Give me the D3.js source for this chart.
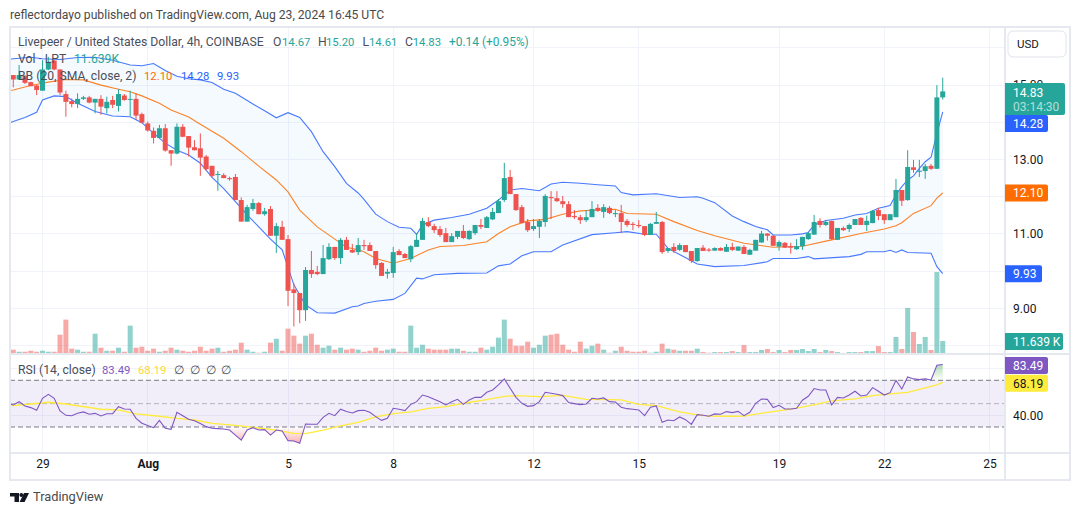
<!DOCTYPE html>
<html>
<head>
<meta charset="utf-8">
<style>
  html, body { margin: 0; padding: 0; background: #fff; }
  svg { display: block; }
  text { font-family: Roboto, sans-serif; }
</style>
<script src="https://cdn.jsdelivr.net/npm/d3@7"></script>
</head>
<body>
<svg id="chart" width="1080" height="515"></svg>
<script>
// LPT/USD, 4h candles from Coinbase, with Bollinger Bands, volume and RSI.
const firstBar = Date.UTC(2024, 6, 28, 4);
const barMs = 4 * 3600 * 1000;

const opens = [
15.27,15.15,15.24,15.08,14.99,14.85,15.42,15.66,15.42,14.76,
14.57,14.49,14.63,14.67,14.53,14.63,14.38,14.60,14.44,14.72,
14.61,14.63,14.22,13.97,13.77,13.58,13.84,13.25,13.16,13.88,
13.63,13.33,13.30,13.08,12.83,12.59,12.58,12.50,12.53,11.91,
11.33,11.67,11.83,11.53,11.67,10.95,11.19,10.86,9.51,9.41,
8.95,10.03,9.98,9.92,10.32,10.65,10.35,10.84,10.57,10.51,
10.70,10.70,10.54,10.22,9.93,9.95,10.54,10.46,10.32,10.65,
10.84,11.32,11.21,11.13,11.02,10.78,10.92,11.08,10.86,11.02,
11.24,11.16,11.39,11.56,11.91,12.53,12.07,11.72,11.32,11.13,
11.19,11.32,11.99,11.96,11.88,11.80,11.48,11.45,11.37,11.45,
11.70,11.59,11.70,11.53,11.56,11.35,11.27,11.24,11.21,10.97,
11.27,11.32,10.54,10.65,10.57,10.70,10.54,10.27,10.63,10.58,
10.55,10.62,10.52,10.65,10.55,10.65,10.44,10.55,10.77,11.01,
10.95,10.66,10.76,10.67,10.59,10.67,10.86,10.98,11.35,11.24,
11.35,10.84,11.16,11.13,11.24,11.43,11.24,11.29,11.64,11.53,
11.37,11.45,12.18,11.91,12.79,12.67,12.69,12.83,12.75,14.67];

const highs = [
15.27,15.54,15.27,15.09,15.00,15.67,15.76,15.67,15.42,14.85,
14.64,14.78,14.71,14.71,14.63,14.73,14.69,14.71,14.89,14.76,
14.85,14.78,14.26,14.02,13.86,13.93,13.95,13.25,13.97,13.95,
13.63,13.52,13.70,13.12,12.83,12.69,12.63,12.54,12.61,11.98,
11.78,11.94,11.86,11.70,11.75,11.29,11.35,10.97,9.67,9.41,
10.11,10.54,10.14,10.70,10.75,10.65,10.89,10.92,10.73,10.89,
10.84,10.77,10.54,10.24,10.06,10.65,10.59,10.49,10.70,11.02,
11.43,11.45,11.27,11.21,11.16,11.02,11.08,11.24,11.10,11.24,
11.40,11.48,11.70,11.94,12.91,12.72,12.07,11.78,11.40,11.40,
11.40,12.07,12.15,12.15,12.02,11.88,11.64,11.51,11.64,11.88,
11.80,11.80,11.75,11.64,11.78,11.40,11.32,11.37,11.21,11.29,
11.59,11.35,10.62,10.75,10.75,10.70,10.54,10.62,10.70,10.62,
10.64,10.64,10.73,10.76,10.66,10.70,10.60,10.84,11.08,11.02,
10.97,10.82,10.78,10.76,10.86,10.92,11.05,11.51,11.42,11.37,
11.35,11.16,11.20,11.28,11.40,11.45,11.49,11.64,11.70,11.53,
11.53,12.48,12.18,13.25,12.99,12.99,12.88,12.88,15.00,15.20];

const lows = [
14.94,15.14,15.03,14.97,14.73,14.85,15.40,15.40,14.73,14.15,
14.40,14.38,14.60,14.51,14.24,14.20,14.24,14.38,14.29,14.58,
14.17,14.06,13.97,13.75,13.43,13.57,13.21,12.83,13.14,13.60,
13.08,13.24,12.56,12.70,12.52,12.16,12.50,12.43,11.91,11.33,
11.33,11.62,11.53,11.49,10.95,10.49,10.84,9.06,8.51,8.60,
8.66,9.82,9.89,9.92,10.30,10.30,10.19,10.57,10.49,10.43,
10.57,10.54,10.06,9.87,9.80,9.82,10.43,10.35,10.24,10.65,
10.84,11.18,11.02,10.92,10.78,10.78,10.86,10.86,10.84,10.97,
11.13,11.16,11.37,11.56,11.86,12.07,11.62,11.29,11.05,11.08,
10.89,11.19,11.40,11.86,11.70,11.45,11.40,11.27,11.32,11.45,
11.59,11.43,11.53,11.45,11.02,11.19,11.10,11.16,10.94,10.97,
11.27,10.46,10.49,10.49,10.54,10.51,10.22,10.25,10.54,10.52,
10.55,10.55,10.52,10.54,10.54,10.46,10.44,10.55,10.76,10.82,
10.68,10.55,10.63,10.47,10.57,10.57,10.84,10.98,11.17,11.21,
10.84,10.84,11.08,11.05,11.24,11.24,11.08,11.29,11.37,11.27,
11.37,11.45,11.75,11.89,12.64,12.53,12.48,12.72,12.75,14.61];

const closes = [
15.15,15.27,15.06,14.97,14.87,15.42,15.63,15.42,14.80,14.55,
14.49,14.63,14.67,14.53,14.63,14.42,14.55,14.47,14.76,14.60,
14.63,14.18,13.99,13.78,13.58,13.84,13.24,13.16,13.88,13.61,
13.32,13.25,13.05,12.74,12.56,12.61,12.50,12.47,11.91,11.33,
11.72,11.83,11.53,11.61,10.95,11.21,10.84,9.47,9.41,8.95,
10.03,9.92,9.92,10.35,10.65,10.35,10.84,10.57,10.50,10.70,
10.67,10.54,10.16,9.87,9.98,10.51,10.43,10.35,10.67,10.84,
11.35,11.21,11.10,10.97,10.78,10.94,11.08,10.89,11.08,11.24,
11.19,11.45,11.59,11.88,12.50,12.07,11.64,11.29,11.10,11.21,
11.35,12.02,11.96,11.88,11.80,11.45,11.45,11.37,11.45,11.67,
11.62,11.72,11.56,11.56,11.32,11.24,11.24,11.21,10.97,11.27,
11.32,10.51,10.62,10.54,10.70,10.51,10.27,10.62,10.54,10.55,
10.62,10.55,10.65,10.57,10.66,10.46,10.57,10.84,11.01,10.95,
10.68,10.78,10.63,10.63,10.67,10.92,11.02,11.32,11.24,11.32,
10.86,11.16,11.10,11.24,11.40,11.24,11.35,11.62,11.48,11.37,
11.53,12.18,11.89,12.80,12.72,12.70,12.82,12.75,14.67,14.83];

// Volume in thousands of LPT per bar.
const volumes = [
3.7,1.8,1.8,2.7,1.8,2.7,1.8,1.8,17.4,31.2,
4.6,3.7,1.8,1.8,18.3,5.5,2.7,2.7,5.5,1.8,
25.7,5.5,6.4,2.7,4.6,1.8,2.7,5.5,3.7,2.7,
1.8,2.7,6.4,2.7,4.6,5.5,1.8,2.7,3.7,10.1,
3.7,1.8,0.9,1.8,10.1,13.7,2.7,22.9,16.5,9.2,
16.5,18.3,8.2,5.5,7.3,3.7,5.5,3.7,4.6,3.7,
1.8,2.7,5.5,2.7,3.7,4.6,1.8,1.8,25.7,5.5,
8.2,4.6,3.7,3.7,3.7,4.6,4.6,2.7,1.8,1.8,
5.5,3.7,6.4,14.7,31.2,13.7,7.3,7.3,11.0,5.5,
8.2,16.5,17.4,18.3,8.2,3.7,1.8,11.0,4.6,7.3,
9.2,3.7,0.9,2.7,6.4,2.7,1.8,1.8,2.7,0.9,
1.8,9.2,4.6,3.7,2.7,2.7,2.7,4.6,1.5,0.9,
1.5,1.5,1.5,2.4,1.5,7.9,1.5,1.5,3.4,4.3,
1.5,3.4,1.5,3.4,3.4,4.3,2.4,4.3,1.5,3.4,
2.4,1.5,0.6,1.5,1.5,1.5,2.4,2.4,7.0,1.5,
1.5,15.3,4.3,41.9,19.9,8.9,15.3,3.4,74.8,11.639];

// Bollinger Bands, as [bar number, price] knots along each curve.
const bbUpper = [[-1,15.68],[0,15.71],[3,15.75],[5,15.71],[8,15.69],[11,15.74],[14,15.75],[17,15.67],[20,15.54],[22,15.52],[24,15.58],[26,15.39],[28,15.24],[30,15.17],[32,15.14],[34,15.07],[36,14.89],[38,14.78],[41,14.49],[43,14.31],[45,14.12],[47,14.26],[49,14.13],[51,13.75],[53,13.21],[55,12.81],[57,12.36],[59,12.10],[60,11.93],[62,11.53],[64,11.33],[66,11.18],[68,11.15],[69,10.99],[70,11.24],[72,11.37],[75,11.44],[78,11.53],[81,11.69],[83,11.91],[85,12.18],[87,12.22],[90,12.16],[92,12.34],[94,12.39],[97,12.36],[100,12.32],[103,12.29],[104,12.11],[106,12.05],[110,12.08],[114,11.98],[117,12.00],[118,11.96],[120,11.84],[123,11.48],[125,11.33],[127,11.20],[129,11.11],[130,10.97],[133,10.97],[135,11.00],[136,11.04],[137,11.24],[139,11.36],[142,11.42],[144,11.51],[146,11.55],[148,11.69],[150,11.76],[151,12.05],[152,12.27],[153,12.45],[154,12.56],[155,12.76],[156,12.94],[157,13.06],[158,13.70],[159,14.28]];
const bbBasis = [[-1,14.84],[0,14.87],[3,14.99],[6,15.08],[9,15.15],[12,15.14],[15,15.00],[18,14.89],[20,14.82],[22,14.71],[25,14.51],[27,14.33],[30,14.14],[32,13.95],[36,13.57],[39,13.21],[42,12.82],[45,12.45],[47,12.13],[49,11.64],[52,11.19],[55,10.86],[57,10.64],[59,10.57],[60,10.52],[62,10.34],[65,10.21],[68,10.34],[71,10.57],[73,10.66],[77,10.69],[81,10.79],[83,11.01],[85,11.19],[88,11.35],[91,11.39],[94,11.53],[97,11.62],[101,11.65],[103,11.66],[105,11.55],[110,11.53],[113,11.33],[117,11.09],[120,10.95],[125,10.75],[130,10.64],[135,10.67],[140,10.84],[145,11.01],[149,11.13],[151,11.22],[152,11.30],[154,11.55],[157,11.76],[158,11.96],[159,12.10]];
const bbLower = [[-1,13.97],[0,14.02],[2,14.13],[4,14.27],[5,14.60],[7,14.71],[9,14.69],[11,14.51],[14,14.29],[17,14.17],[20,14.15],[22,13.99],[24,13.70],[26,13.44],[28,13.25],[30,13.12],[32,12.90],[34,12.52],[36,12.22],[38,11.87],[40,11.51],[42,11.19],[44,10.86],[46,10.57],[48,9.63],[50,9.09],[52,8.88],[55,8.87],[58,9.04],[59,9.06],[60,9.13],[62,9.19],[65,9.24],[67,9.40],[69,9.81],[70,9.79],[72,9.90],[76,9.94],[81,9.95],[83,10.14],[85,10.19],[87,10.41],[89,10.52],[92,10.52],[94,10.70],[99,10.98],[103,11.03],[105,11.06],[108,10.99],[110,10.99],[112,10.61],[116,10.28],[117,10.19],[120,10.12],[125,10.15],[129,10.25],[130,10.34],[134,10.34],[136,10.39],[137,10.33],[143,10.39],[145,10.45],[146,10.52],[149,10.52],[150,10.56],[151,10.50],[152,10.57],[153,10.50],[157,10.48],[158,10.12],[159,9.93]];

// RSI(14), one reading per bar, and its moving average as knots.
const rsiLeadIn = [-1, 50.3];
const rsiValues = [
48.9,51.7,48.0,46.6,44.3,54.6,58.0,54.6,43.7,40.0,
39.7,41.7,42.9,40.9,41.7,39.4,41.4,41.4,47.4,45.4,
45.2,37.4,33.2,31.2,29.4,35.7,28.9,28.0,42.6,39.7,
36.6,35.4,32.9,30.3,28.9,28.6,28.3,27.4,23.1,18.8,
27.4,29.4,27.4,27.7,23.1,27.4,26.6,18.3,18.0,16.0,
32.6,32.3,32.3,38.3,41.7,39.7,45.2,43.2,42.0,44.0,
44.3,42.6,38.9,35.7,37.4,46.0,45.2,44.0,49.4,51.7,
57.4,56.0,53.7,51.7,48.9,51.7,53.7,49.4,53.2,55.4,
55.4,59.7,61.7,66.0,71.2,63.2,55.4,50.3,47.7,48.3,
51.7,59.7,58.9,58.0,56.9,50.9,50.0,49.2,49.7,54.6,
54.0,54.9,51.7,51.4,46.9,45.7,45.2,44.6,39.7,46.9,
48.0,34.0,36.0,35.4,38.6,36.3,32.3,40.6,40.0,39.2,
41.2,40.9,43.2,42.3,43.4,39.7,42.6,50.3,54.0,53.7,
46.6,48.6,45.4,45.4,46.0,52.9,56.3,62.9,61.7,61.7,
48.9,55.4,54.9,57.4,60.6,56.6,57.4,63.7,60.6,57.4,
59.4,70.0,62.6,72.9,71.2,70.6,71.2,70.3,82.9,83.49];
const rsiAverage = [[-1,48.0],[0,48.3],[3,49.7],[6,51.2],[9,49.7],[15,45.2],[18,44.6],[21,41.2],[25,39.2],[28,37.4],[31,36.0],[34,33.1],[38,31.4],[41,29.7],[45,27.4],[48,24.6],[50,24.3],[53,27.4],[56,30.9],[59,34.0],[62,38.6],[65,41.4],[68,42.9],[71,46.0],[74,47.4],[78,51.2],[80,52.6],[84,56.3],[86,56.9],[90,56.0],[94,57.1],[98,53.7],[102,53.4],[104,53.2],[107,49.4],[110,48.3],[114,42.9],[117,40.3],[119,39.4],[123,39.2],[125,39.4],[129,42.6],[133,45.4],[137,48.9],[140,52.3],[144,54.0],[147,56.9],[150,58.3],[153,59.7],[155,62.3],[158,66.0],[159,68.19]];

const priceTicks = [9, 11, 13, 15];
const priceGrid = [8, 9, 10, 11, 12, 13, 14, 15, 16];
const rsiTicks = [40];
const rsiGrid = [40, 80];
const timeTicks = [
  {date: Date.UTC(2024, 6, 29), label: "29"},
  {date: Date.UTC(2024, 7, 1), label: "Aug", bold: true},
  {date: Date.UTC(2024, 7, 5), label: "5"},
  {date: Date.UTC(2024, 7, 8), label: "8"},
  {date: Date.UTC(2024, 7, 12), label: "12"},
  {date: Date.UTC(2024, 7, 15), label: "15"},
  {date: Date.UTC(2024, 7, 19), label: "19"},
  {date: Date.UTC(2024, 7, 22), label: "22"},
  {date: Date.UTC(2024, 7, 25), label: "25"}
];

const UP = "#26a69a", DOWN = "#ef5350", BLUE = "#2962ff", ORANGE = "#ff6d00",
      PURPLE = "#7e57c2", YELLOW = "#ffeb3b", GRID = "#f0f3fa", EDGE = "#e6e8ef", INK = "#131722";

const plot = {left: 10, right: 1004, top: 27, bottom: 354, rsiBottom: 452.5, frameBottom: 479.5};

const x = d3.scaleUtc()
  .domain([Date.UTC(2024, 6, 29), Date.UTC(2024, 7, 25)])
  .range([42.5, 989.5]);
const barX = i => x(firstBar + i * barMs);
const y = d3.scaleLinear().domain([9, 15]).range([308.3, 85.1]);
const yVol = d3.scaleLinear().domain([0, 74.8]).range([353.7, 272]);
const yRsi = d3.scaleLinear().domain([30, 70]).range([427, 380.3]);

const svg = d3.select("#chart");
const defs = svg.append("defs");
defs.append("clipPath").attr("id", "mainClip").append("rect")
  .attr("x", plot.left).attr("y", plot.top)
  .attr("width", plot.right - plot.left).attr("height", plot.bottom - plot.top);
defs.append("clipPath").attr("id", "rsiClip").append("rect")
  .attr("x", plot.left).attr("y", plot.bottom)
  .attr("width", plot.right - plot.left).attr("height", plot.rsiBottom - plot.bottom);
defs.append("clipPath").attr("id", "aboveBand").append("rect")
  .attr("x", plot.left).attr("y", plot.bottom)
  .attr("width", plot.right - plot.left).attr("height", yRsi(70) - plot.bottom);
defs.append("clipPath").attr("id", "belowBand").append("rect")
  .attr("x", plot.left).attr("y", yRsi(30))
  .attr("width", plot.right - plot.left).attr("height", plot.rsiBottom - yRsi(30));

function verticalGradient(id, y1, y2, color, a1, a2) {
  const g = defs.append("linearGradient").attr("id", id)
    .attr("gradientUnits", "userSpaceOnUse")
    .attr("x1", 0).attr("x2", 0).attr("y1", y1).attr("y2", y2);
  g.append("stop").attr("offset", 0).attr("stop-color", color).attr("stop-opacity", a1);
  g.append("stop").attr("offset", 1).attr("stop-color", color).attr("stop-opacity", a2);
}
verticalGradient("overbought", yRsi(83.49), yRsi(70), "#4caf50", 0.45, 0);
verticalGradient("oversold", yRsi(30), yRsi(16), "#ef5350", 0, 0.45);

// Frame and grid
const grid = svg.append("g").attr("stroke", GRID).attr("stroke-width", 1).attr("shape-rendering", "crispEdges");
grid.selectAll(".v").data(timeTicks).join("line")
  .attr("x1", d => x(d.date)).attr("x2", d => x(d.date))
  .attr("y1", plot.top).attr("y2", plot.rsiBottom);
grid.selectAll(".h").data(priceGrid).join("line")
  .attr("x1", plot.left).attr("x2", plot.right)
  .attr("y1", d => y(d)).attr("y2", d => y(d));
grid.selectAll(".r").data(rsiGrid).join("line")
  .attr("x1", plot.left).attr("x2", plot.right)
  .attr("y1", d => yRsi(d)).attr("y2", d => yRsi(d));

// Volume histogram
const main = svg.append("g").attr("clip-path", "url(#mainClip)");
const bars = d3.range(opens.length);
const isUp = i => closes[i] >= opens[i];
main.append("g").selectAll("rect").data(bars).join("rect")
  .attr("x", i => barX(i) - 2.5).attr("width", 5)
  .attr("y", i => yVol(volumes[i]))
  .attr("height", i => yVol(0) - yVol(volumes[i]))
  .attr("fill", i => isUp(i) ? UP : DOWN).attr("fill-opacity", 0.5);

// Bollinger Bands
const knot = d3.line().x(d => barX(d[0])).y(d => y(d[1]));
main.append("path")
  .attr("d", knot(bbUpper.concat(bbLower.slice().reverse())) + "Z")
  .attr("fill", "#2196f3").attr("fill-opacity", 0.05);
[[bbUpper, BLUE], [bbLower, BLUE], [bbBasis, ORANGE]].forEach(([knots, color]) => {
  main.append("path").attr("d", knot(knots)).attr("fill", "none")
    .attr("stroke", color).attr("stroke-width", 1.1).attr("stroke-opacity", 0.85);
});

// Candles
const candles = main.append("g");
candles.selectAll("line").data(bars).join("line")
  .attr("x1", barX).attr("x2", barX)
  .attr("y1", i => y(highs[i])).attr("y2", i => y(lows[i]))
  .attr("stroke", i => isUp(i) ? UP : DOWN).attr("stroke-width", 1);
candles.selectAll("rect").data(bars).join("rect")
  .attr("x", i => barX(i) - 2.5).attr("width", 5)
  .attr("y", i => y(Math.max(opens[i], closes[i])))
  .attr("height", i => Math.max(1, Math.abs(y(opens[i]) - y(closes[i]))))
  .attr("fill", i => isUp(i) ? UP : DOWN);

// RSI pane
const rsiPane = svg.append("g").attr("clip-path", "url(#rsiClip)");
rsiPane.append("rect")
  .attr("x", plot.left).attr("width", plot.right - plot.left)
  .attr("y", yRsi(70)).attr("height", yRsi(30) - yRsi(70))
  .attr("fill", PURPLE).attr("fill-opacity", 0.1);
[[70, 1], [50, 0.5], [30, 1]].forEach(([level, alpha]) => {
  rsiPane.append("line")
    .attr("x1", plot.left).attr("x2", plot.right)
    .attr("y1", yRsi(level)).attr("y2", yRsi(level))
    .attr("stroke", "#787b86").attr("stroke-opacity", alpha)
    .attr("stroke-dasharray", "5 3");
});
const rsiPoints = [rsiLeadIn].concat(rsiValues.map((v, i) => [i, v]));
const rsiArea = level => d3.area().x(d => barX(d[0])).y0(yRsi(level)).y1(d => yRsi(d[1]));
rsiPane.append("g").attr("clip-path", "url(#aboveBand)").append("path")
  .attr("d", rsiArea(70)(rsiPoints)).attr("fill", "url(#overbought)");
rsiPane.append("g").attr("clip-path", "url(#belowBand)").append("path")
  .attr("d", rsiArea(30)(rsiPoints)).attr("fill", "url(#oversold)");
const rsiLine = d3.line().x(d => barX(d[0])).y(d => yRsi(d[1]));
rsiPane.append("path").attr("d", rsiLine(rsiAverage)).attr("fill", "none")
  .attr("stroke", YELLOW).attr("stroke-width", 1.3);
rsiPane.append("path").attr("d", rsiLine(rsiPoints)).attr("fill", "none")
  .attr("stroke", PURPLE).attr("stroke-width", 1.1);

// Pane separators and outer border
const frame = svg.append("g").attr("stroke", EDGE).attr("fill", "none").attr("shape-rendering", "crispEdges");
frame.append("line").attr("x1", 10).attr("x2", 1069).attr("y1", plot.bottom).attr("y2", plot.bottom).attr("stroke-width", 2);
frame.append("line").attr("x1", 10).attr("x2", 1069).attr("y1", plot.rsiBottom).attr("y2", plot.rsiBottom).attr("stroke-width", 2);
frame.append("line").attr("x1", 1004.5).attr("x2", 1004.5).attr("y1", plot.top).attr("y2", plot.frameBottom).attr("stroke-width", 2);
frame.append("rect").attr("x", 9.5).attr("y", 26.5).attr("width", 1060).attr("height", plot.frameBottom - 26.5).attr("stroke-width", 2);

// Axes
const axisFont = 12;
const priceAxis = svg.append("g").attr("transform", "translate(1009,0)")
  .call(d3.axisRight(y).tickValues(priceTicks).tickFormat(d3.format(".2f")).tickSize(0).tickPadding(4));
const rsiAxis = svg.append("g").attr("transform", "translate(1009,0)")
  .call(d3.axisRight(yRsi).tickValues(rsiTicks).tickFormat(d3.format(".2f")).tickSize(0).tickPadding(4));
const timeAxis = svg.append("g").attr("transform", `translate(0,${plot.rsiBottom})`)
  .call(d3.axisBottom(x).tickValues(timeTicks.map(d => new Date(d.date)))
    .tickFormat((d, i) => timeTicks[i].label).tickSize(0).tickPadding(7));
[priceAxis, rsiAxis, timeAxis].forEach(a => {
  a.select(".domain").remove();
  a.selectAll("text").attr("font-size", axisFont).attr("fill", INK);
  a.attr("font-family", null);
});
timeAxis.selectAll("text").attr("font-weight", (d, i) => timeTicks[i].bold ? 700 : 400);

// Value tags on the price scale, pushed down when they would overlap
function tag(top, h, w, color) {
  const p = d3.path(), r = 2, l = 1005;
  p.moveTo(l, top); p.lineTo(l + w - r, top);
  p.arcTo(l + w, top, l + w, top + r, r);
  p.lineTo(l + w, top + h - r);
  p.arcTo(l + w, top + h, l + w - r, top + h, r);
  p.lineTo(l, top + h); p.closePath();
  svg.append("path").attr("fill", color).attr("d", p.toString());
}
function tagText(tx, cy, s, color, opacity) {
  svg.append("text").attr("x", tx).attr("y", cy).attr("dy", "0.35em")
    .attr("font-size", axisFont).attr("fill", color).attr("fill-opacity", opacity || 1).text(s);
}
const lastClose = closes[closes.length - 1];
const lastUpper = bbUpper[bbUpper.length - 1][1];
const lastBasis = bbBasis[bbBasis.length - 1][1];
const lastLower = bbLower[bbLower.length - 1][1];
const lastVolume = volumes[volumes.length - 1];
const lastRsi = rsiValues[rsiValues.length - 1];
const lastRsiAvg = rsiAverage[rsiAverage.length - 1][1];

const closeTop = y(lastClose) - 8.4;
tag(closeTop, 32, 60, UP);
tagText(1013, closeTop + 9.3, d3.format(".2f")(lastClose), "#fff");
tagText(1013, closeTop + 23.5, "03:14:30", "#fff", 0.65);
const upperTop = Math.max(closeTop + 32, y(lastUpper) - 8.4);
tag(upperTop, 17, 43, BLUE);
tagText(1013, upperTop + 8.7, d3.format(".2f")(lastUpper), "#fff");
tag(y(lastBasis) - 8.4, 17, 43, ORANGE);
tagText(1013, y(lastBasis) + 0.3, d3.format(".2f")(lastBasis), "#fff");
tag(y(lastLower) - 8.4, 17, 37, BLUE);
tagText(1013, y(lastLower) + 0.3, d3.format(".2f")(lastLower), "#fff");
tag(yVol(lastVolume) - 8, 17, 58, UP);
tagText(1013, yVol(lastVolume) + 0.5, d3.format(".3f")(lastVolume) + " K", "#fff");
tag(yRsi(lastRsi) - 7.6, 17, 43, PURPLE);
tagText(1013, yRsi(lastRsi) + 0.9, d3.format(".2f")(lastRsi), "#fff");
tag(yRsi(lastRsiAvg) - 7.6, 17, 43, YELLOW);
tagText(1013, yRsi(lastRsiAvg) + 0.9, d3.format(".2f")(lastRsiAvg), INK);

svg.append("rect").attr("x", 1008).attr("y", 31).attr("width", 58).attr("height", 26).attr("rx", 5)
  .attr("fill", "#fff").attr("stroke", "#e0e3eb");
svg.append("text").attr("x", 1017).attr("y", 44).attr("dy", "0.35em")
  .attr("font-size", 11.5).attr("fill", INK).text("USD");

// Legends
function legend(lineY, runs) {
  const t = svg.append("text").attr("y", lineY).attr("dy", "0.35em").attr("font-size", 12.2).attr("fill", "#4a4e5a");
  runs.forEach(r => {
    const s = t.append("tspan").attr("x", r.x).text(r.s);
    if (r.fill) s.attr("fill", r.fill);
    if (r.size) s.attr("font-size", r.size);
  });
}
const numSize = 11.3;
legend(42, [
  {x: 18, s: "Livepeer / United States Dollar, 4h, COINBASE"},
  {x: 273, s: "O"}, {x: 282, s: "14.67", fill: UP, size: numSize},
  {x: 318, s: "H"}, {x: 326, s: "15.20", fill: UP, size: numSize},
  {x: 362.5, s: "L"}, {x: 369, s: "14.61", fill: UP, size: numSize},
  {x: 405, s: "C"}, {x: 412.7, s: "14.83", fill: UP, size: numSize},
  {x: 449, s: "+0.14 (+0.95%)", fill: UP, size: 11.9}
]);
legend(59, [
  {x: 18, s: "Vol · LPT"}, {x: 74, s: "11.639K", fill: UP}
]);
legend(76, [
  {x: 18, s: "BB (20, SMA, close, 2)"},
  {x: 144, s: "12.10", fill: ORANGE, size: numSize}, {x: 181, s: "14.28", fill: BLUE, size: numSize}, {x: 217, s: "9.93", fill: BLUE, size: numSize}
]);
legend(370, [
  {x: 18, s: "RSI (14, close)"},
  {x: 102, s: "83.49", fill: PURPLE, size: numSize}, {x: 138, s: "68.19", fill: "#fdd835", size: numSize},
  {x: 174, s: "∅"}, {x: 190, s: "∅"}, {x: 206, s: "∅"}, {x: 221, s: "∅"}
]);

// Header line and footer wordmark
svg.append("text").attr("x", 10).attr("y", 15).attr("dy", "0.35em")
  .attr("font-size", 12.15).attr("fill", "#4a4a4a")
  .text("reflectordayo published on TradingView.com, Aug 23, 2024 16:45 UTC");
const mark = svg.append("g").attr("fill", "#131722");
mark.append("path").attr("d", "M10 493H19V502H14.5V496.6H10Z");
mark.append("circle").attr("cx", 21.3).attr("cy", 495).attr("r", 1.9);
mark.append("path").attr("d", "M24 493H29L24.6 502H19.6Z");
svg.append("text").attr("x", 33).attr("y", 497).attr("dy", "0.35em")
  .attr("font-size", 12.8).attr("fill", "#4a4a4a").text("TradingView");
</script>
</body>
</html>
